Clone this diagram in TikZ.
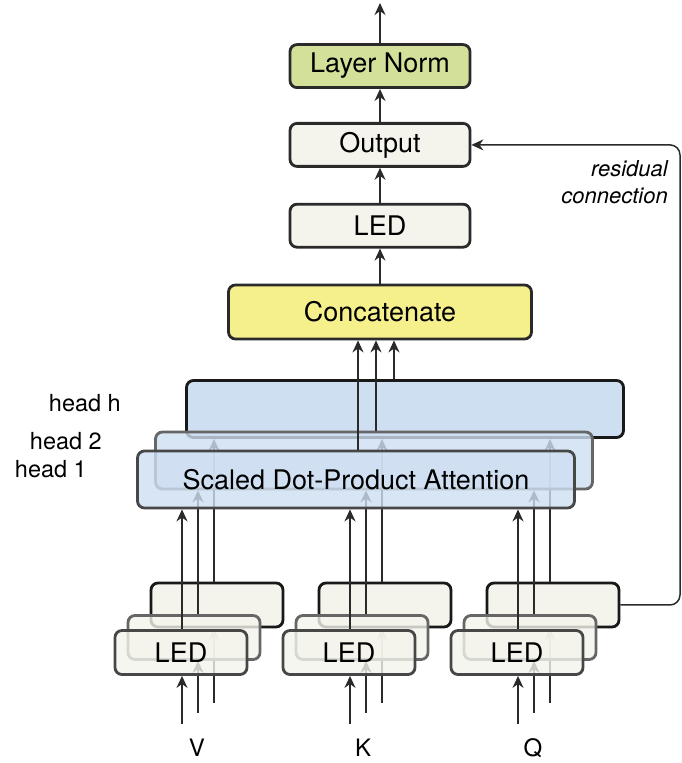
\documentclass[tikz,border=0pt]{standalone}
\usepackage{fontspec}
\setmainfont{TeX Gyre Heros}
\usetikzlibrary{arrows.meta,positioning}
\definecolor{ledfill}{HTML}{F4F4EC}
\definecolor{attfill}{HTML}{CEDFF1}
\definecolor{normfill}{HTML}{D3E09A}
\definecolor{catfill}{HTML}{F5EF8C}
\definecolor{edgedark}{HTML}{2A2A2A}
\pgfdeclarelayer{wires}
\pgfdeclarelayer{front}
\pgfsetlayers{wires,main,front}

\begin{document}
\begin{tikzpicture}[x=1pt,y=1pt,
  ledbox/.style={rectangle, rounded corners=7pt, draw=edgedark, line width=2.8pt,
    fill=ledfill, inner sep=0pt, font=\fontsize{27}{32}\selectfont},
  topbox/.style={ledbox, minimum width=180pt, minimum height=43pt},
  attbox/.style={ledbox, fill=attfill, minimum width=437pt, minimum height=57pt},
  stackbox/.style={ledbox, minimum width=132pt, minimum height=44pt},
  arr/.style={line width=1.5pt, draw=edgedark, -{Stealth[length=12pt,width=11pt]}},
  lbl/.style={font=\fontsize{23.5}{28}\selectfont, inner sep=0pt},
]
\useasboundingbox (0,0) rectangle (682,763);

% output part
\node[ledbox, fill=catfill, minimum width=303pt, minimum height=54pt] (concat) at (380,451) {Concatenate};
\node[topbox] (led) [above=35pt of concat] {LED};
\node[topbox] (out) [above=35pt of led] {Output};
\node[topbox, fill=normfill] (norm) [above=33pt of out] {Layer Norm};
\coordinate (top) at (380,760);
\draw[arr] (concat) -- (led);
\draw[arr] (led) -- (out);
\draw[arr] (out) -- (norm);
\draw[arr] (norm) -- (top);

% heads
\begin{pgfonlayer}{front}
\node[attbox, draw=black!90] (headh) at (405,354) {};
\node[attbox, draw=black!60, fill opacity=0.8, text opacity=1] (head2) at (374,302.5) {};
\node[attbox, draw=black!72, fill opacity=0.8, text opacity=1] (head1) at (356,283.5) {Scaled Dot-Product Attention};
\foreach \x/\h in {358/head1, 376/head2, 394/headh}
  \draw[arr] (\h.north -| \x,0) -- (concat.south -| \x,0);
\end{pgfonlayer}
\node[lbl, anchor=base east] (labh) at (121,351) {head h};
\node[lbl, anchor=base east] (lab2) at (102,313) {head 2};
\node[lbl, anchor=base east] (lab1) at (87,285) {head 1};

% V, K, Q
\foreach \b/\n in {182/v, 350/k, 518/q}{
  \pgfmathsetmacro{\bm}{\b+16}
  \pgfmathsetmacro{\bb}{\b+32}
  \node[stackbox, draw=black!90] (back\n) at (\b+35,158) {};
  \node[stackbox, draw=black!60, fill opacity=0.8, text opacity=1] (mid\n) at (\b+12,125.5) {};
  \node[stackbox, draw=black!72, fill opacity=0.8, text opacity=1] (front\n) at (\b-1,110.5) {LED};
  \draw[arr] (front\n.north -| \b,0) -- (head1.south -| \b,0);
  \draw[arr] (mid\n.north -| \bm,0) -- (head2.south -| \bm,0);
  \draw[arr] (back\n.north -| \bb,0) -- (headh.south -| \bb,0);
  \coordinate (in\n1) at (\b,39);
  \coordinate (in\n2) at (\bm,50);
  \coordinate (in\n3) at (\bb,60);
  \begin{pgfonlayer}{wires}
    \draw[arr] (in\n1) -- (front\n.south -| in\n1);
    \draw[arr] (in\n2) -- (mid\n.south -| in\n2);
    \draw[arr] (in\n3) -- (back\n.south -| in\n3);
  \end{pgfonlayer}
}
\node[lbl, font=\fontsize{24}{28}\selectfont, anchor=base] (vlab) at (197,6) {V};
\node[lbl, font=\fontsize{24}{28}\selectfont, anchor=base] (klab) at (363,6) {K};
\node[lbl, font=\fontsize{24}{28}\selectfont, anchor=base] (qlab) at (533,6) {Q};

% residual
\coordinate (rescol) at (680,0);
\draw[arr, rounded corners=10pt] (backq.east) -- (backq.east -| rescol) -- (rescol |- out.east) -- (out.east);
\node[font=\fontsize{22}{27}\selectfont\itshape, align=right, anchor=north east, inner sep=0pt] (reslab) at (668,603) {residual\\connection};
\end{tikzpicture}
\end{document}
